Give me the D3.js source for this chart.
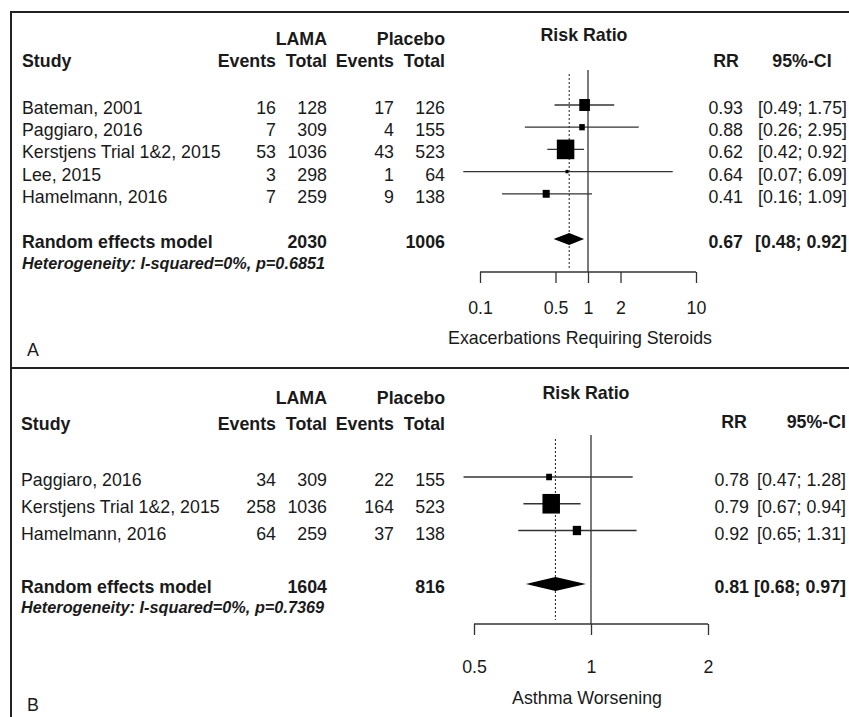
<!DOCTYPE html>
<html><head><meta charset="utf-8">
<script src="https://cdn.jsdelivr.net/npm/d3@7"></script>
<style>
html,body{margin:0;padding:0;background:#fff;}
svg text{font-family:"Liberation Sans",Arial,Helvetica,sans-serif;fill:#1a1a1a;}
</style></head>
<body>
<svg id="chart" width="849" height="717"></svg>
<script>
// ---------- Panel A data ----------
const studiesA = ["Bateman, 2001","Paggiaro, 2016","Kerstjens Trial 1&2, 2015","Lee, 2015","Hamelmann, 2016"];
const eventsLamaA = [16, 7, 53, 3, 7];
const totalLamaA = [128, 309, 1036, 298, 259];
const eventsPlaceboA = [17, 4, 43, 1, 9];
const totalPlaceboA = [126, 155, 523, 64, 138];
const rrA = [0.93, 0.88, 0.62, 0.64, 0.41];
const lowerA = [0.49, 0.26, 0.42, 0.07, 0.16];
const upperA = [1.75, 2.95, 0.92, 6.09, 1.09];
const weightA = [22.3, 6.1, 60.0, 1.8, 9.7];
const summaryA = {rr: 0.67, lower: 0.48, upper: 0.92, totalLama: 2030, totalPlacebo: 1006};
const hetA = "Heterogeneity: I-squared=0%, p=0.6851";
const ticksA = [0.1, 0.5, 1, 2, 10];
const axisLabelA = "Exacerbations Requiring Steroids";

// ---------- Panel B data ----------
const studiesB = ["Paggiaro, 2016","Kerstjens Trial 1&2, 2015","Hamelmann, 2016"];
const eventsLamaB = [34, 258, 64];
const totalLamaB = [309, 1036, 259];
const eventsPlaceboB = [22, 164, 37];
const totalPlaceboB = [155, 523, 138];
const rrB = [0.78, 0.79, 0.92];
const lowerB = [0.47, 0.67, 0.65];
const upperB = [1.28, 0.94, 1.31];
const weightB = [8.2, 75.0, 16.9];
const summaryB = {rr: 0.81, lower: 0.68, upper: 0.97, totalLama: 1604, totalPlacebo: 816};
const hetB = "Heterogeneity: I-squared=0%, p=0.7369";
const ticksB = [0.5, 1, 2];
const axisLabelB = "Asthma Worsening";

const fmt2 = d3.format(".2f");

const svg = d3.select("#chart");

// frame
svg.append("path")
  .attr("d", "M11,717 L11,12 L849,12")
  .attr("fill","none").attr("stroke","#222").attr("stroke-width",2);
svg.append("line").attr("x1",11).attr("x2",849).attr("y1",368).attr("y2",368)
  .attr("stroke","#222").attr("stroke-width",2);

function panel(cfg){
  const g = svg.append("g");
  const fs = 17.8;
  const txt = (x, y, s, anchor, weight, style, size) => g.append("text")
    .attr("x", x).attr("y", y).attr("text-anchor", anchor || "start")
    .attr("dominant-baseline","central")
    .attr("font-size", size || fs)
    .attr("font-weight", weight || "normal")
    .attr("font-style", style || "normal")
    .text(s);

  // headers
  txt(327, cfg.hy1, "LAMA", "end", "bold");
  txt(445, cfg.hy1, "Placebo", "end", "bold");
  txt(cfg.left, cfg.hy2, "Study", "start", "bold");
  txt(276, cfg.hy2, "Events", "end", "bold");
  txt(327, cfg.hy2, "Total", "end", "bold");
  txt(394, cfg.hy2, "Events", "end", "bold");
  txt(445, cfg.hy2, "Total", "end", "bold");
  txt(cfg.rrTitleX, cfg.rrTitleY, "Risk Ratio", "middle", "bold");
  txt(cfg.rrHeadX, cfg.rrHeadY, "RR", "middle", "bold");
  txt(cfg.ciHeadX, cfg.rrHeadY, "95%-CI", cfg.ciHeadAnchor, "bold");

  const x = cfg.x;
  const n = cfg.studies.length;
  const rowY = i => cfg.row0 + i * cfg.rowStep;
  const size = d3.scaleSqrt().domain([0, d3.max(cfg.weights)]).range([0, 17.5]);

  // reference lines
  g.append("line").attr("x1", x(1)).attr("x2", x(1))
    .attr("y1", cfg.refTop).attr("y2", cfg.axisY)
    .attr("stroke","#333").attr("stroke-width",1.3);
  g.append("line").attr("x1", x(cfg.summary.rr)).attr("x2", x(cfg.summary.rr))
    .attr("y1", cfg.refTop + 4).attr("y2", cfg.axisY - 4)
    .attr("stroke","#333").attr("stroke-width",1.1).attr("stroke-dasharray","2,2");

  // study rows
  for (let i = 0; i < n; i++) {
    const y = rowY(i), ty = y + 3;
    txt(cfg.left, ty, cfg.studies[i]);
    txt(276, ty, cfg.eL[i], "end");
    txt(327, ty, cfg.tL[i], "end");
    txt(394, ty, cfg.eP[i], "end");
    txt(445, ty, cfg.tP[i], "end");
    txt(cfg.rrX, ty, fmt2(cfg.rr[i]), "end");
    txt(cfg.ciX, ty, "[" + fmt2(cfg.lo[i]) + "; " + fmt2(cfg.hi[i]) + "]", "end");
    g.append("line").attr("x1", x(cfg.lo[i])).attr("x2", x(cfg.hi[i]))
      .attr("y1", y).attr("y2", y).attr("stroke","#333").attr("stroke-width",1.3);
    const s = size(cfg.weights[i]);
    const h = s * 1.12;
    g.append("rect").attr("x", x(cfg.rr[i]) - s/2).attr("y", y - h/2)
      .attr("width", s).attr("height", h).attr("fill","#000");
  }

  // summary
  const sy = cfg.sumY;
  txt(cfg.left, sy + 3, "Random effects model", "start", "bold");
  txt(327, sy + 3, cfg.summary.totalLama, "end", "bold");
  txt(445, sy + 3, cfg.summary.totalPlacebo, "end", "bold");
  txt(cfg.rrX, sy + 3, fmt2(cfg.summary.rr), "end", "bold");
  txt(cfg.ciX, sy + 3, "[" + fmt2(cfg.summary.lower) + "; " + fmt2(cfg.summary.upper) + "]", "end", "bold");
  const dh = cfg.diamondH / 2;
  g.append("path")
    .attr("d", `M${x(cfg.summary.lower)},${sy} L${x(cfg.summary.rr)},${sy - dh} L${x(cfg.summary.upper)},${sy} L${x(cfg.summary.rr)},${sy + dh} Z`)
    .attr("fill","#000");
  txt(cfg.left, cfg.hetY, cfg.het, "start", "bold", "italic", 16.3);

  // axis
  const ax = g.append("g").attr("transform", `translate(0,${cfg.axisY})`)
    .call(d3.axisBottom(x).tickValues(cfg.ticks).tickSize(11).tickSizeOuter(0)
      .tickFormat(d => String(d)));
  ax.select(".domain").attr("stroke","#333").attr("stroke-width",1.3)
    .attr("d", `M${x(cfg.ticks[0])},0H${x(cfg.ticks[cfg.ticks.length-1])}`);
  ax.selectAll(".tick line").attr("stroke","#333").attr("stroke-width",1.3);
  ax.selectAll(".tick text")
    .attr("y", cfg.tickLabY - cfg.axisY).attr("dy", null)
    .attr("dominant-baseline","central")
    .attr("font-size", fs).attr("fill","#1a1a1a")
    .style("font-family",'"Liberation Sans",Arial,sans-serif');
  txt(cfg.axLabX, cfg.axLabY, cfg.axisLabel, "middle");
  txt(27, cfg.panelLabY, cfg.panelLab, "start");
}

panel({
  studies: studiesA, eL: eventsLamaA, tL: totalLamaA, eP: eventsPlaceboA, tP: totalPlaceboA,
  rr: rrA, lo: lowerA, hi: upperA, weights: weightA, summary: summaryA, het: hetA,
  ticks: ticksA, axisLabel: axisLabelA, panelLab: "A",
  x: d3.scaleLog().domain([0.1, 10]).range([480, 696]),
  left: 22,
  hy1: 39, hy2: 61, rrTitleX: 584, rrTitleY: 35, rrHeadX: 726, rrHeadY: 61,
  ciHeadX: 802, ciHeadAnchor: "middle",
  row0: 105, rowStep: 22.2, sumY: 239, hetY: 263, diamondH: 12,
  refTop: 70, axisY: 272, tickLabY: 308, axLabX: 580, axLabY: 338, panelLabY: 350,
  rrX: 743, ciX: 847
});

panel({
  studies: studiesB, eL: eventsLamaB, tL: totalLamaB, eP: eventsPlaceboB, tP: totalPlaceboB,
  rr: rrB, lo: lowerB, hi: upperB, weights: weightB, summary: summaryB, het: hetB,
  ticks: ticksB, axisLabel: axisLabelB, panelLab: "B",
  x: d3.scaleLog().domain([0.5, 2]).range([474, 708]),
  left: 21,
  hy1: 398, hy2: 424, rrTitleX: 586, rrTitleY: 393, rrHeadX: 734, rrHeadY: 422,
  ciHeadX: 846, ciHeadAnchor: "end",
  row0: 477, rowStep: 26.75, sumY: 584, hetY: 607, diamondH: 14,
  refTop: 435, axisY: 624, tickLabY: 667, axLabX: 587, axLabY: 698, panelLabY: 705,
  rrX: 749, ciX: 846
});
</script>
</body></html>
